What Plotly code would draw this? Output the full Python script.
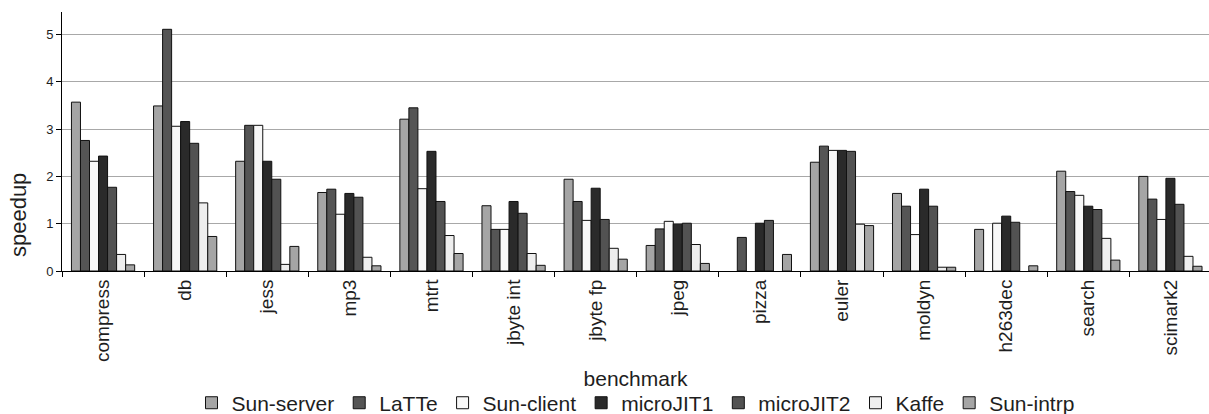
import plotly.graph_objects as go

benchmarks = ["compress", "db", "jess", "mp3", "mtrt", "jbyte int", "jbyte fp",
              "jpeg", "pizza", "euler", "moldyn", "h263dec", "search", "scimark2"]

# None = no bar for that benchmark
sun_server = [3.57, 3.49, 2.32, 1.66, 3.21, 1.38, 1.94, 0.54, None, 2.30, 1.64, 0.88, 2.11, 2.00]
latte      = [2.76, 5.11, 3.08, 1.73, 3.45, 0.88, 1.47, 0.89, 0.71, 2.64, 1.37, None, 1.68, 1.52]
sun_client = [2.32, 3.06, 3.08, 1.20, 1.74, 0.88, 1.07, 1.05, None, 2.55, 0.77, 1.01, 1.60, 1.09]
microjit1  = [2.43, 3.16, 2.32, 1.64, 2.53, 1.47, 1.75, 0.99, 1.01, 2.55, 1.73, 1.16, 1.37, 1.96]
microjit2  = [1.77, 2.70, 1.94, 1.56, 1.47, 1.22, 1.09, 1.01, 1.07, 2.53, 1.37, 1.03, 1.30, 1.41]
kaffe      = [0.35, 1.44, 0.14, 0.29, 0.75, 0.37, 0.48, 0.56, None, 0.99, 0.08, None, 0.69, 0.31]
sun_intrp  = [0.13, 0.73, 0.52, 0.11, 0.37, 0.12, 0.25, 0.16, 0.35, 0.96, 0.08, 0.11, 0.23, 0.10]

series = [
    ("Sun-server", sun_server, "#a5a5a5"),
    ("LaTTe", latte, "#555555"),
    ("Sun-client", sun_client, "#f8f8f8"),
    ("microJIT1", microjit1, "#2a2a2a"),
    ("microJIT2", microjit2, "#525252"),
    ("Kaffe", kaffe, "#eeeeee"),
    ("Sun-intrp", sun_intrp, "#a5a5a5"),
]

FONT = "Liberation Sans, Arial, sans-serif"
TEXT = "#1e1e1e"

fig = go.Figure()
for name, vals, color in series:
    fig.add_trace(go.Bar(
        name=name, x=benchmarks, y=vals,
        marker=dict(color=color, line=dict(color="#111111", width=1)),
    ))

# y-axis title sits in the lower part of the left margin
fig.add_annotation(
    text="speedup", textangle=-90,
    xref="paper", x=0, xanchor="center", xshift=-44,
    yref="paper", y=0.216, yanchor="middle",
    showarrow=False,
    font=dict(family=FONT, size=22, color=TEXT),
)

fig.update_layout(
    width=1209, height=414,
    margin=dict(l=62, r=0, t=12, b=143, autoexpand=False),
    paper_bgcolor="white", plot_bgcolor="white",
    barmode="group", bargap=0.23, bargroupgap=0,
    font=dict(family=FONT, color=TEXT),
    showlegend=True,
    legend=dict(
        orientation="h", x=0.5, xanchor="center", y=-0.51, yanchor="middle",
        font=dict(family=FONT, size=21, color=TEXT),
        itemwidth=30, traceorder="normal", tracegroupgap=0,
    ),
    xaxis=dict(
        range=[-0.5, 13.47],
        tickangle=-90,
        tickfont=dict(family=FONT, size=19, color=TEXT),
        showline=True, linecolor="#000000", linewidth=1,
        ticks="outside", tickson="boundaries", ticklen=5, tickcolor="#000000",
        showgrid=False, automargin=False,
        title=dict(text="benchmark", font=dict(family=FONT, size=21, color=TEXT), standoff=10),
    ),
    yaxis=dict(
        range=[0, 5.476],
        tickvals=[0, 1, 2, 3, 4, 5],
        tickfont=dict(family=FONT, size=13, color=TEXT),
        showline=True, linecolor="#000000", linewidth=1,
        ticks="outside", ticklen=5, tickcolor="#000000",
        showgrid=True, gridcolor="#a8a8a8", gridwidth=1,
        zeroline=False, automargin=False,
    ),
)

fig.write_html("out.html")
